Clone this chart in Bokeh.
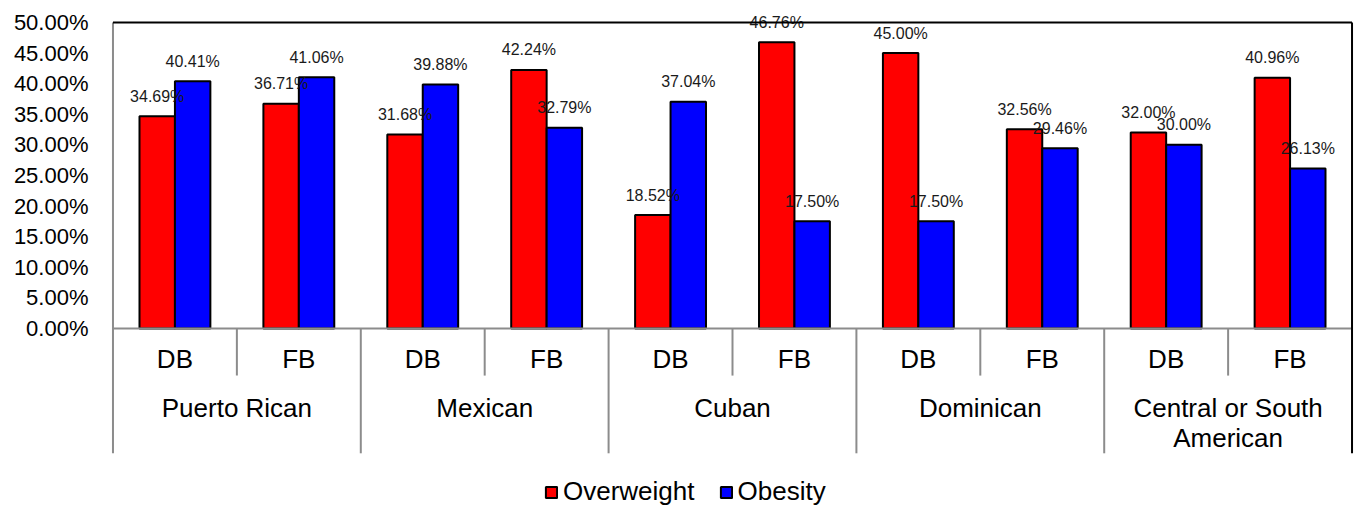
from bokeh.plotting import figure
from bokeh.models import (FactorRange, Range1d, ColumnDataSource, FixedTicker,
                          NumeralTickFormatter, Legend, LegendItem)
from bokeh.transform import dodge
from bokeh.core.properties import value
from bokeh.embed import file_html
from bokeh.resources import INLINE

# ---- data ----
groups = ["Puerto Rican", "Mexican", "Cuban", "Dominican", "Central or South American"]
group_labels = ["Puerto Rican", "Mexican", "Cuban", "Dominican", "Central or South\nAmerican"]
subs = ["DB", "FB"]
overweight = [34.69, 36.71, 31.68, 42.24, 18.52, 46.76, 45.00, 32.56, 32.00, 40.96]
obesity = [40.41, 41.06, 39.88, 32.79, 37.04, 17.50, 17.50, 29.46, 30.00, 26.13]
y_ticks = [0.0, 0.05, 0.10, 0.15, 0.20, 0.25, 0.30, 0.35, 0.40, 0.45, 0.50]

FONT = "Liberation Sans"

factors = [(g, s) for g in groups for s in subs]
src = ColumnDataSource(dict(
    x=factors,
    ow=[v / 100 for v in overweight],
    ob=[v / 100 for v in obesity],
    ow_lbl=[f"{v:.2f}%" for v in overweight],
    ob_lbl=[f"{v:.2f}%" for v in obesity],
    sub=[s for g in groups for s in subs],
))

xr = FactorRange(factors=factors, factor_padding=0, group_padding=0,
                 range_padding=0.004, range_padding_units="percent")
p = figure(x_range=xr, y_range=Range1d(-0.2893, 0.5359), width=1354, height=505,
           output_backend="svg", toolbar_location=None, title=None,
           min_border_left=110, min_border_right=0, min_border_top=0, min_border_bottom=0)
p.outline_line_color = None
p.xgrid.visible = False
p.ygrid.visible = False
p.xaxis.visible = False

ya = p.yaxis[0]
ya.ticker = FixedTicker(ticks=y_ticks)
ya.formatter = NumeralTickFormatter(format="0.00%")
ya.axis_line_color = None
ya.major_tick_line_color = None
ya.minor_tick_line_color = None
ya.major_tick_out = 0
ya.major_tick_in = 0
ya.major_label_standoff = 22
ya.major_label_text_font = FONT
ya.major_label_text_font_size = "22px"
ya.major_label_text_color = "#000000"

W = 0.286
r_ow = p.vbar(x=dodge("x", -W / 2, range=xr), top="ow", bottom=0, width=W, source=src,
              fill_color="#FF0000", line_color="#000000", line_width=2)
r_ob = p.vbar(x=dodge("x", W / 2, range=xr), top="ob", bottom=0, width=W, source=src,
              fill_color="#0000FF", line_color="#000000", line_width=2)

# data labels
for col, lbl, off in (("ow", "ow_lbl", -W / 2), ("ob", "ob_lbl", W / 2)):
    p.text(x=dodge("x", off, range=xr), y=col, text=lbl, source=src, y_offset=-20,
           text_align="center", text_baseline="middle", text_font=value(FONT),
           text_font_size="16px", text_color="#1a1a1a")

# frame / category table lines
n = len(factors)
gray = "#8c8c8c"
p.segment(x0=[0, 0], y0=[0.5, 0], x1=[0, n], y1=[-0.204, 0], line_color=gray, line_width=2)
p.segment(x0=[0, n], y0=[0.5, 0.5], x1=[n, n], y1=[0.5, -0.204], line_color="#000000", line_width=2)
sub_seps = [2 * i + 1 for i in range(len(groups))]
grp_seps = [2 * i for i in range(1, len(groups))]
p.segment(x0=sub_seps, y0=[0] * len(sub_seps), x1=sub_seps, y1=[-0.077] * len(sub_seps),
          line_color=gray, line_width=2)
p.segment(x0=grp_seps, y0=[0] * len(grp_seps), x1=grp_seps, y1=[-0.204] * len(grp_seps),
          line_color=gray, line_width=2)

# category labels
p.text(x="x", y=0, text="sub", source=src, y_offset=31, text_align="center",
       text_baseline="middle", text_font=value(FONT), text_font_size="26px", text_color="#000000")
gsrc = ColumnDataSource(dict(x=groups, t=group_labels))
p.text(x="x", y=0, text="t", source=gsrc, y_offset=65, text_align="center",
       text_baseline="top", text_font=value(FONT), text_font_size="26px",
       text_color="#000000", text_line_height=0.97)

legend = Legend(items=[LegendItem(label="Overweight", renderers=[r_ow]),
                       LegendItem(label="Obesity", renderers=[r_ob])],
                orientation="horizontal", location=(434, -2), padding=0, margin=0,
                border_line_color=None, background_fill_alpha=0,
                label_text_font=FONT, label_text_font_size="26px", label_text_color="#000000",
                glyph_width=14, glyph_height=14, label_standoff=5, spacing=24)
p.add_layout(legend)

open("out.html", "w").write(file_html(p, INLINE))
